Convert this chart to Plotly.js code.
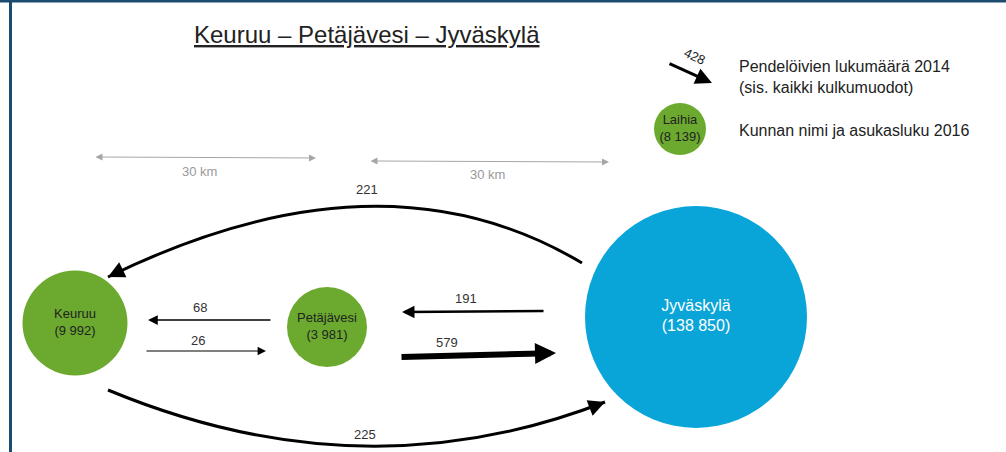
<!DOCTYPE html>
<html><head><meta charset="utf-8">
<script src="https://cdn.plot.ly/plotly-3.0.1.min.js"></script>
<style>html,body{margin:0;padding:0;background:#fff;overflow:hidden}</style>
</head><body><div id="chart" style="width:1006px;height:452px"></div>
<script>
// ---------------- DATA ----------------
const towns = ["Keuruu", "Petäjävesi", "Jyväskylä"];
const population2016 = [9992, 3981, 138850];
const flowFrom = ["Jyväskylä", "Keuruu", "Petäjävesi", "Keuruu", "Jyväskylä", "Petäjävesi"];
const flowTo = ["Keuruu", "Jyväskylä", "Keuruu", "Petäjävesi", "Petäjävesi", "Jyväskylä"];
const commuters2014 = [221, 225, 68, 26, 191, 579];
const legendTown = ["Laihia"];
const legendPopulation = [8139];
const legendCommuters = [428];
const distanceLabels = ["30 km", "30 km"];
const titleText = "Keuruu – Petäjävesi – Jyväskylä";
const legendTexts = ["Pendelöivien lukumäärä 2014<br>(sis. kaikki kulkumuodot)", "Kunnan nimi ja asukasluku 2016"];

// ---------------- LAYOUT / STYLE (pixel geometry) ----------------
const nodeGeom = {
  "Keuruu":     {x: 75,  y: 323, d: 105, color: "#6BAA2F", font: 13, fc: "#222"},
  "Petäjävesi": {x: 327, y: 327, d: 80,  color: "#6BAA2F", font: 13, fc: "#222"},
  "Jyväskylä":  {x: 696, y: 317, d: 222, color: "#0AA5D8", font: 16, fc: "#ffffff"},
  "Laihia":     {x: 680, y: 129, d: 52,  color: "#6BAA2F", font: 13, fc: "#222"}
};
// per flow (same order as commuters2014)
const flowGeom = [
  {type: "curve", s: [582, 263], c: [381, 143], e: [108, 277], w: 3,   lbl: [367, 189]},
  {type: "curve", s: [108, 390], c: [363, 496], e: [605, 402], w: 3,   lbl: [365, 434]},
  {type: "line",  s: [272, 320], e: [148, 320], w: 1.5, lbl: [200, 307], hs: 1.3},
  {type: "line",  s: [145, 351], e: [266, 351], w: 1.2, lbl: [198, 340], hs: 1.4},
  {type: "line",  s: [545, 311], e: [402, 312], w: 2.5, lbl: [466, 298], hs: 1.0},
  {type: "line",  s: [400, 357], e: [556, 353], w: 6,   lbl: [447, 342], hs: 0.7}
];

function fmt(n) { return String(n).replace(/\B(?=(\d{3})+(?!\d))/g, " "); }

const allNodes = towns.concat(legendTown);
const allPops = population2016.concat(legendPopulation);
const nodeTrace = {
  type: "scatter", mode: "markers+text",
  x: allNodes.map(t => nodeGeom[t].x),
  y: allNodes.map(t => nodeGeom[t].y),
  text: allNodes.map((t, i) => t + "<br>(" + fmt(allPops[i]) + ")"),
  textposition: "middle center",
  textfont: {family: "Liberation Sans, Arial, sans-serif",
             size: allNodes.map(t => nodeGeom[t].font),
             color: allNodes.map(t => nodeGeom[t].fc)},
  marker: {size: allNodes.map(t => nodeGeom[t].d), opacity: 1,
           color: allNodes.map(t => nodeGeom[t].color), line: {width: 0}},
  hoverinfo: "skip", showlegend: false, cliponaxis: false
};

const shapes = [];
const annotations = [];
const FONT = "Liberation Sans, Arial, sans-serif";

// border
shapes.push({type: "line", xref: "x", yref: "y", x0: 0, x1: 1006, y0: 1, y1: 1, line: {color: "#1B4B6F", width: 3}});
shapes.push({type: "line", xref: "x", yref: "y", x0: 10.5, x1: 10.5, y0: 0, y1: 452, line: {color: "#1B4B6F", width: 3}});

flowGeom.forEach((g, i) => {
  let tail;
  if (g.type === "curve") {
    shapes.push({type: "path", xref: "x", yref: "y",
      path: `M ${g.s[0]} ${g.s[1]} Q ${g.c[0]} ${g.c[1]} ${g.e[0]} ${g.e[1]}`,
      line: {color: "#000", width: g.w}});
    const dx = g.e[0] - g.c[0], dy = g.e[1] - g.c[1];
    const L = Math.hypot(dx, dy);
    tail = [g.e[0] - 14 * dx / L, g.e[1] - 14 * dy / L];
  } else {
    tail = g.s;
  }
  annotations.push({x: g.e[0], y: g.e[1], ax: tail[0], ay: tail[1], xref: "x", yref: "y",
    axref: "x", ayref: "y", showarrow: true, arrowhead: 2, arrowsize: g.hs || 1.1,
    arrowwidth: g.w, arrowcolor: "#000", standoff: 0, startstandoff: 0, text: ""});
  annotations.push({x: g.lbl[0], y: g.lbl[1], xref: "x", yref: "y", showarrow: false,
    text: String(commuters2014[i]), font: {family: FONT, size: 13, color: "#333"}});
});

// distance scale arrows
const scaleGeom = [{s: [94, 157], e: [316, 158], lbl: [199, 171]}, {s: [369, 161], e: [609, 162], lbl: [487, 174]}];
scaleGeom.forEach((g, i) => {
  annotations.push({x: g.e[0], y: g.e[1], ax: g.s[0], ay: g.s[1], xref: "x", yref: "y",
    axref: "x", ayref: "y", showarrow: true, arrowhead: 2, arrowside: "end+start", arrowsize: 1.4,
    arrowwidth: 1, arrowcolor: "#A6A6A6", standoff: 0, startstandoff: 0, text: ""});
  annotations.push({x: g.lbl[0], y: g.lbl[1], xref: "x", yref: "y", showarrow: false,
    text: distanceLabels[i], font: {family: FONT, size: 13, color: "#999"}});
});

// legend arrow
annotations.push({x: 712, y: 83, ax: 668, ay: 63, xref: "x", yref: "y", axref: "x", ayref: "y",
  showarrow: true, arrowhead: 2, arrowsize: 1.1, arrowwidth: 3, arrowcolor: "#000",
  standoff: 0, startstandoff: 0, text: ""});
annotations.push({x: 695, y: 56, xref: "x", yref: "y", showarrow: false, textangle: 25,
  text: String(legendCommuters[0]), font: {family: FONT, size: 13, color: "#222"}});
annotations.push({x: 737, y: 77, xref: "x", yref: "y", showarrow: false, xanchor: "left", align: "left",
  text: legendTexts[0], font: {family: FONT, size: 16, color: "#222"}});
annotations.push({x: 737, y: 130, xref: "x", yref: "y", showarrow: false, xanchor: "left", align: "left",
  text: legendTexts[1], font: {family: FONT, size: 16, color: "#222"}});

// title
annotations.push({x: 367, y: 34, xref: "x", yref: "y", showarrow: false,
  text: "<u>" + titleText + "</u>", font: {family: FONT, size: 24, color: "#222"}});

const layout = {
  width: 1006, height: 452,
  margin: {l: 0, r: 0, t: 0, b: 0},
  paper_bgcolor: "#fff", plot_bgcolor: "#fff",
  xaxis: {range: [0, 1006], visible: false, fixedrange: true},
  yaxis: {range: [452, 0], visible: false, fixedrange: true},
  shapes: shapes, annotations: annotations, showlegend: false
};

Plotly.newPlot("chart", [nodeTrace], layout, {displayModeBar: false, staticPlot: true});
</script></body></html>
